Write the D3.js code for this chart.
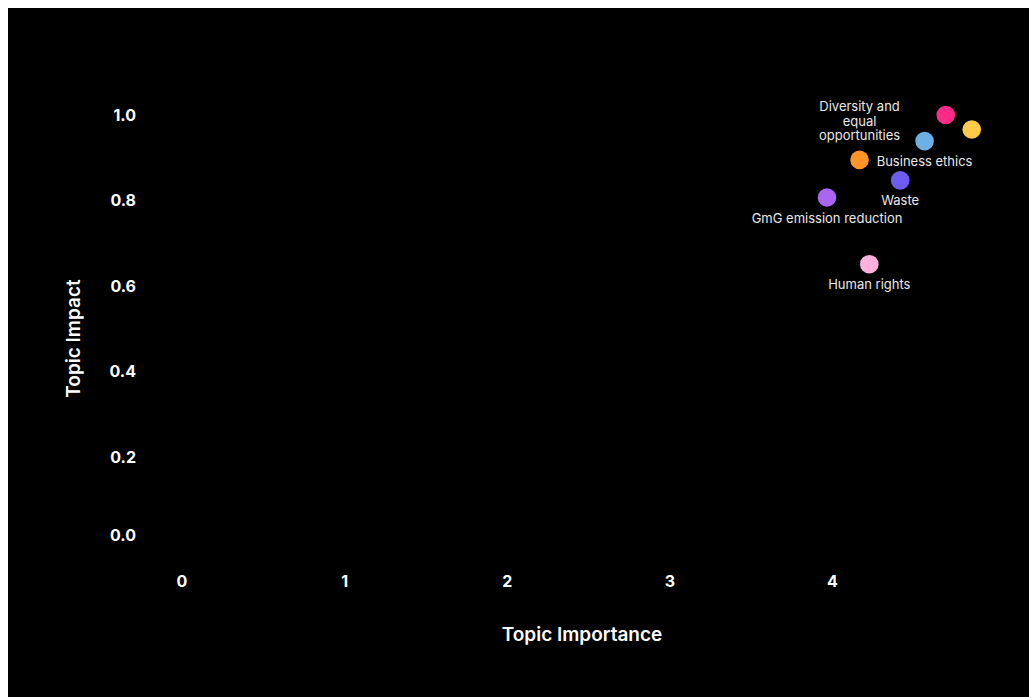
<!DOCTYPE html>
<html>
<head>
<meta charset="utf-8">
<script src="https://cdn.jsdelivr.net/npm/d3@7"></script>
<style>
  html, body { margin: 0; padding: 0; background: #fff; overflow: hidden; }
  body { padding: 8px 0 0 8px; }
  svg { display: block; background: #000; }
  text { font-family: Inter, "Noto Sans", sans-serif; }
</style>
</head>
<body>
<div id="chart"></div>
<script>
// Materiality topics: importance (x) vs impact (y)
const topics = ["", "", "Business ethics", "Diversity and\nequal\nopportunities", "Waste", "GmG emission reduction", "Human rights"];
const importance = [4.70, 4.86, 4.57, 4.17, 4.42, 3.97, 4.23];
const impact = [1.00, 0.966, 0.939, 0.895, 0.847, 0.807, 0.651];
const colors = ["#ff2a88", "#ffc94a", "#6cb0e6", "#ff9429", "#6e5cf2", "#aa66f0", "#ffb0de"];
const labelSide = ["none", "none", "below", "above", "below", "below", "below"];
const xTicks = [0, 1, 2, 3, 4];
const yTicks = [0, 0.2, 0.4, 0.6, 0.8, 1.0];

const W = 1040, H = 700;   // svg is offset 8px by the page margin
const svg = d3.select("#chart").append("svg").attr("width", W).attr("height", H);

// coordinates are in page space; shift the group back by the 8px offset
const g = svg.append("g").attr("transform", "translate(-8,-8)");

const x = d3.scaleLinear().domain([0, 5]).range([181.5, 994.5]);
const y = d3.scaleLinear().domain([0, 1]).range([542.5, 115]);

// x axis
const xAxis = g.append("g")
  .attr("transform", "translate(0,575.5)")
  .call(d3.axisBottom(x).tickValues(xTicks).tickFormat(d3.format("d")).tickSize(0).tickPadding(0));
xAxis.select(".domain").remove();
xAxis.selectAll("text")
  .attr("fill", "#fff").style("font-size", "16px").style("font-weight", 700)
  .style("font-family", "Inter, sans-serif");

// y axis
const yAxis = g.append("g")
  .attr("transform", "translate(146,0)")
  .call(d3.axisLeft(y).tickValues(yTicks).tickFormat(d3.format(".1f")).tickSize(0).tickPadding(10));
yAxis.select(".domain").remove();
yAxis.selectAll("text")
  .attr("fill", "#fff").style("font-size", "16px").style("font-weight", 700)
  .style("font-family", "Inter, sans-serif")
  .attr("dy", d => d === 0 ? "-0.15em" : "0.32em");

// axis titles
g.append("text")
  .attr("x", 582).attr("y", 641)
  .attr("text-anchor", "middle")
  .attr("fill", "#fff").style("font-size", "19px").style("font-weight", 600)
  .text("Topic Importance");

g.append("text")
  .attr("transform", "translate(80,338.5) rotate(-90)")
  .attr("text-anchor", "middle")
  .attr("fill", "#fff").style("font-size", "19px").style("font-weight", 600)
  .text("Topic Impact");

// points
const idx = d3.range(topics.length);
g.selectAll("circle.pt")
  .data(idx)
  .join("circle")
  .attr("class", "pt")
  .attr("cx", i => x(importance[i]))
  .attr("cy", i => y(impact[i]))
  .attr("r", 9.3)
  .attr("fill", i => colors[i]);

// point labels
idx.filter(i => labelSide[i] !== "none").forEach(i => {
  const lines = topics[i].split("\n");
  const cx = x(importance[i]), cy = y(impact[i]);
  const lh = 14.5;
  const firstY = labelSide[i] === "below"
    ? cy + 20.5
    : cy - 24 - (lines.length - 1) * lh;
  const t = g.append("text")
    .attr("text-anchor", "middle")
    .attr("fill", "#e8e8e8")
    .style("font-size", "13px");
  lines.forEach((ln, k) => {
    t.append("tspan")
      .attr("x", cx)
      .attr("y", firstY + k * lh)
      .attr("dy", "0.35em")
      .text(ln);
  });
});
</script>
</body>
</html>
